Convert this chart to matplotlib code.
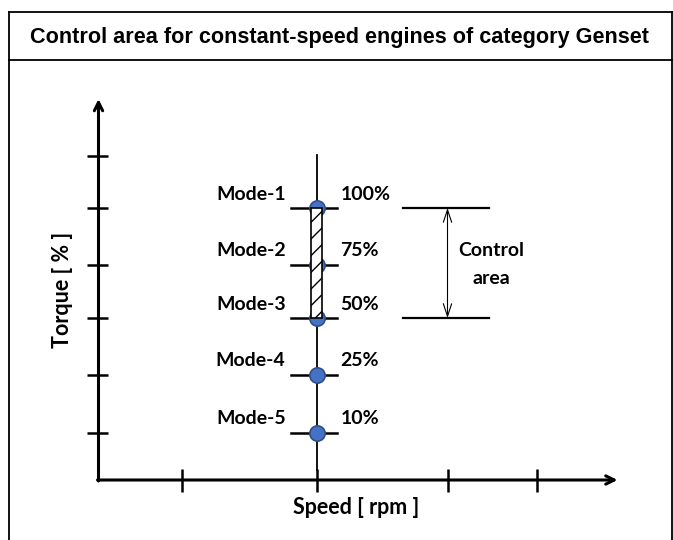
import matplotlib
matplotlib.use("Agg")
import matplotlib.pyplot as plt
from matplotlib.patches import Rectangle
from matplotlib.lines import Line2D

# ---- data (schematic units: x = speed position, y = torque position) ----
title = "Control area for constant-speed engines of category Genset"
modes = ["Mode-1", "Mode-2", "Mode-3", "Mode-4", "Mode-5"]
torque_pct = ["100%", "75%", "50%", "25%", "10%"]
mode_level = [272, 215, 162, 105, 47]          # vertical position of each mode
torque_ticks = [47, 105, 162, 215, 272, 324]    # y-axis tick positions
speed_ticks = [83, 218, 349, 438]               # x-axis tick positions
mode_speed = 218                                # constant speed position
x_axis_end = 519
y_axis_end = 381
control_range = [272, 162]                      # upper / lower of control area
control_x = [304, 390]
control_arrow_x = 349
x_label = "Speed [ rpm ]"
y_label = "Torque [ % ]"
control_label = "Control\narea"

W, H = 673, 540
fig = plt.figure(figsize=(W / 100, H / 100), dpi=100)
ax = fig.add_axes([0, 0, 1, 1])
ax.set_xlim(-98.5, W - 98.5)
ax.set_ylim(480 - H, 480)
ax.axis("off")

LBL = ["Lato", "DejaVu Sans"]

# ---- frame & title box (figure pixel coords) ----
def fig_line(x0, y0, x1, y1, lw=1.3):
    fig.add_artist(Line2D([x0 / W, x1 / W], [1 - y0 / H, 1 - y1 / H],
                          color="black", lw=lw, transform=fig.transFigure))

fig_line(9, 12, 672, 12)
fig_line(9, 60, 672, 60)
fig_line(9, 12, 9, 540)
fig_line(671.5, 12, 671.5, 540)
fig.text(339 / W, 1 - 37 / H, title, ha="center", va="center",
         fontsize=15.6, fontweight="bold", family=["Liberation Sans", "DejaVu Sans"])

# ---- axes with arrows ----
ax.annotate("", xy=(0, y_axis_end), xytext=(0, -1),
            arrowprops=dict(arrowstyle="->,head_length=0.6,head_width=0.3",
                            lw=2.2, color="black", shrinkA=0, shrinkB=0))
ax.annotate("", xy=(x_axis_end, 0), xytext=(-1, 0),
            arrowprops=dict(arrowstyle="->,head_length=0.6,head_width=0.3",
                            lw=2.2, color="black", shrinkA=0, shrinkB=0))
for t in torque_ticks:
    ax.plot([-11.5, 10], [t, t], color="black", lw=1.8, solid_capstyle="butt")
for t in speed_ticks:
    ax.plot([t, t], [-11.5, 11], color="black", lw=1.8, solid_capstyle="butt")

ax.text(-36, 190, y_label, rotation=90, ha="center", va="center",
        fontsize=15.5, fontweight="bold", family=LBL)
ax.text(258, -28, x_label, ha="center", va="center",
        fontsize=15.5, fontweight="bold", family=LBL)

# ---- constant speed line and modes ----
ax.plot([mode_speed, mode_speed], [10, 325], color="black", lw=1.3, zorder=2)
for name, pct, lvl in zip(modes, torque_pct, mode_level):
    ax.plot([mode_speed - 25.5, mode_speed + 20.5], [lvl, lvl],
            color="black", lw=1.8, zorder=2)
    ax.plot([mode_speed], [lvl], marker="o", ms=11, mfc="#4472C4",
            mec="#2F4F8A", mew=1.2, zorder=3)
    ax.text(mode_speed - 31, lvl + 14, name, ha="right", va="center",
            fontsize=14, fontweight="bold", family=LBL)
    ax.text(mode_speed + 24, lvl + 14, pct, ha="left", va="center",
            fontsize=14, fontweight="bold", family=LBL)

# hatched control band on the speed line
plt.rcParams["hatch.linewidth"] = 1.0
ax.add_patch(Rectangle((mode_speed - 5.5, control_range[1]), 11,
                       control_range[0] - control_range[1],
                       facecolor="white", edgecolor="black", lw=1.2,
                       hatch="//", zorder=4))

# ---- control area marker ----
for lvl in control_range:
    ax.plot(control_x, [lvl, lvl], color="black", lw=1.6)
ax.annotate("", xy=(control_arrow_x, control_range[0]),
            xytext=(control_arrow_x, control_range[1]),
            arrowprops=dict(arrowstyle="<->,head_length=0.9,head_width=0.3",
                            lw=0.8, color="black", shrinkA=0, shrinkB=0))
ax.text(393, 215.5, control_label, ha="center", va="center",
        fontsize=14, fontweight="bold", family=LBL, linespacing=1.75)

fig.savefig("out.png", dpi=100)
